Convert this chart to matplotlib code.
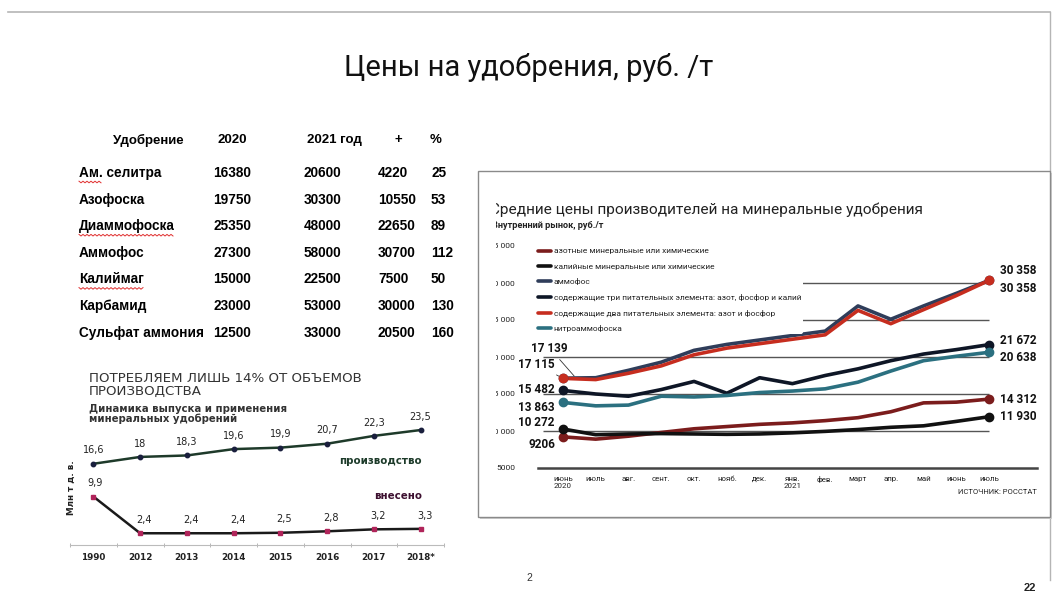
import numpy as np
import matplotlib
matplotlib.use('Agg')
import matplotlib.pyplot as plt
import matplotlib.patches as patches
from matplotlib.transforms import Bbox, TransformedBbox

W, H = 1057, 594
NARROW = ['Roboto', 'DejaVu Sans']
TABLE = ['Liberation Sans', 'DejaVu Sans']

# ---------- table: prices 2020 / 2021 ----------
table_header = ['Удобрение', '2020', '2021 год', '+', '%']
fertilizers = ['Ам. селитра', 'Азофоска', 'Диаммофоска', 'Аммофос',
               'Калиймаг', 'Карбамид', 'Сульфат аммония']
price_2020 = [16380, 19750, 25350, 27300, 15000, 23000, 12500]
price_2021 = [20600, 30300, 48000, 58000, 22500, 53000, 33000]
price_diff = [4220, 10550, 22650, 30700, 7500, 30000, 20500]
price_pct = [25, 53, 89, 112, 50, 130, 160]
underlined = {'Ам. селитра': 'Ам.', 'Диаммофоска': 'Диаммофоска', 'Калиймаг': 'Калиймаг'}

# ---------- production vs. application, mln t ----------
prod_years = ['1990', '2012', '2013', '2014', '2015', '2016', '2017', '2018*']
production = [16.6, 18, 18.3, 19.6, 19.9, 20.7, 22.3, 23.5]
applied = [9.9, 2.4, 2.4, 2.4, 2.5, 2.8, 3.2, 3.3]

# ---------- producer prices, rub/t ----------
months = ['июнь\n2020', 'июль', 'авг.', 'сент.', 'окт.', 'нояб.', 'дек.',
          'янв.\n2021', 'фев.', 'март', 'апр.', 'май', 'июнь', 'июль']
series_names = ['азотные минеральные или химические',
                'калийные минеральные или химические',
                'аммофос',
                'содержащие три питательных элемента: азот, фосфор и калий',
                'содержащие два питательных элемента: азот и фосфор',
                'нитроаммофоска']
azot = [9206, 8900, 9300, 9800, 10300, 10600, 10900, 11100, 11400, 11800, 12600, 13800, 13900, 14312]
kaliy = [10272, 9500, 9600, 9650, 9600, 9550, 9600, 9750, 9950, 10200, 10500, 10700, 11300, 11930]
ammofos = [17139, 17200, 18200, 19300, 20900, 21700, 22300, 22900, 23500, 26900, 25100, 26900, 28600, 30358]
three_el = [15482, 15000, 14700, 15600, 16700, 15100, 17200, 16400, 17500, 18400, 19500, 20400, 21000, 21672]
two_el = [17115, 16950, 17800, 18800, 20300, 21200, 21800, 22400, 23000, 26300, 24500, 26400, 28300, 30358]
nitro = [13863, 13400, 13500, 14700, 14600, 14800, 15200, 15400, 15700, 16600, 18100, 19500, 20100, 20638]
series_colors = ['#7b1c1c', '#111111', '#2f3d5a', '#0e1626', '#c62d1f', '#2b7080']
price_ticks = [5000, 10000, 15000, 20000, 25000, 30000, 35000]
grid_levels = [10000, 15000, 20000, 25000, 30000]


def fmt_rub(v):
    return f'{v:,}'.replace(',', ' ') if v >= 10000 else str(v)


def fmt_dec(v):
    return f'{v:g}'.replace('.', ',')


def px(x, y):
    return x / W, 1 - y / H


def axes_px(left, top, right, bottom):
    return fig.add_axes([left / W, 1 - bottom / H, (right - left) / W, (bottom - top) / H])


fig = plt.figure(figsize=(W / 100, H / 100), dpi=100)
fig.patch.set_facecolor('white')

# slide frame
fig.add_artist(plt.Line2D([0.008, 0.993], [1 - 12 / H] * 2, color='#b5b5b5', lw=1.2, zorder=-3))
fig.add_artist(plt.Line2D([0.993] * 2, [1 - 12 / H, 1 - 580 / H], color='#b5b5b5', lw=1.0, zorder=-3))

fig.text(*px(529, 68), 'Цены на удобрения, руб. /т', family=NARROW, fontsize=21,
         ha='center', va='center', color='#111')

# ---------- table ----------
head_x = [148, 232, 334, 398, 436]
for hx, s in zip(head_x, table_header):
    fig.text(*px(hx, 140), s, family=TABLE, fontsize=9.5, weight='bold', ha='center', va='center')

col_x = [79, 213, 304, 378, 431]
renderer = fig.canvas.get_renderer()
for i, name in enumerate(fertilizers):
    y = 173 + i * 26.6
    row = [name, str(price_2020[i]), str(price_2021[i]), str(price_diff[i]), str(price_pct[i])]
    for cx, s in zip(col_x, row):
        fig.text(*px(cx, y), s, family=TABLE, fontsize=9.8, weight='bold', ha='left', va='center')
    if name in underlined:
        probe = fig.text(*px(79, y), underlined[name], family=TABLE, fontsize=9.8, weight='bold',
                         ha='left', va='center')
        bb = probe.get_window_extent(renderer)
        probe.remove()
        xs = np.arange(bb.x0, bb.x1, 2.0)
        ys = (H - (y + 9)) + np.where(np.arange(len(xs)) % 2 == 0, 0.8, -0.8)
        fig.add_artist(plt.Line2D(xs / W, ys / H, color='#e03030', lw=0.7))

# ---------- production chart ----------
fig.text(*px(89, 385), 'ПОТРЕБЛЯЕМ ЛИШЬ 14% ОТ ОБЪЕМОВ\nПРОИЗВОДСТВА', family='DejaVu Sans',
         fontsize=9.6, color='#333', ha='left', va='center', linespacing=0.95)
fig.text(*px(89, 414), 'Динамика выпуска и применения\nминеральных удобрений', family='DejaVu Sans',
         fontsize=7.3, weight='bold', color='#333', ha='left', va='center', linespacing=0.95)

axp = axes_px(70, 408, 444, 545)
xi = np.arange(len(prod_years))
axp.plot(xi, production, color='#1e3a2a', lw=1.8, marker='o', ms=3.2, mfc='#1a1f3d', mec='#1a1f3d')
axp.plot(xi, applied, color='#1a1a1a', lw=1.8, marker='s', ms=3.2, mfc='#b0245a', mec='#b0245a')
for x, v in zip(xi, production):
    axp.annotate(fmt_dec(v), (x, v), xytext=(0, 6), textcoords='offset points', ha='center',
                 va='bottom', fontsize=7, color='#222')
for x, v in zip(xi, applied):
    axp.annotate(fmt_dec(v), (x, v), xytext=(3 if x else 1, 6), textcoords='offset points',
                 ha='center', va='bottom', fontsize=7, color='#222')
axp.set_xlim(-0.5, len(prod_years) - 0.5)
axp.set_ylim(0, 28)
axp.set_xticks(xi)
axp.set_xticklabels(prod_years, fontsize=6.3, weight='bold', color='#222')
axp.set_xticks(np.arange(-0.5, len(prod_years), 1), minor=True)
axp.tick_params(axis='x', which='major', length=0, pad=6)
axp.tick_params(axis='x', which='minor', length=3, color='#aaa', direction='inout')
axp.set_yticks([])
for s in ['top', 'right', 'left']:
    axp.spines[s].set_visible(False)
axp.spines['bottom'].set_color('#bbb')
axp.set_facecolor('none')
fig.text(*px(422, 461), 'производство', family='DejaVu Sans', fontsize=7.4, weight='bold',
         color='#1d3b2a', ha='right', va='center')
fig.text(*px(422, 496), 'внесено', family='DejaVu Sans', fontsize=7.4, weight='bold',
         color='#3d1030', ha='right', va='center')
fig.text(*px(71, 488), 'Млн т д. в.', family='DejaVu Sans', fontsize=6.3, weight='bold',
         rotation=90, ha='center', va='center', color='#222')

# ---------- price chart box ----------
fig.add_artist(patches.Rectangle(px(480, 519), 572 / W, 346 / H, transform=fig.transFigure,
                                 facecolor='#cfcfcf', edgecolor='none', zorder=-2))
fig.add_artist(patches.Rectangle(px(478, 517), 572 / W, 346 / H, transform=fig.transFigure,
                                 facecolor='white', edgecolor='#8a8a8a', lw=1.0, zorder=-1))

clip = TransformedBbox(Bbox([[496 / W, 0], [1, 1]]), fig.transFigure)
t = fig.text(*px(490, 210), 'Средние цены производителей на минеральные удобрения', family=NARROW,
             fontsize=11.1, ha='left', va='center', color='#222')
t.set_clip_box(clip)
t.set_clip_on(True)
t = fig.text(*px(492, 225), 'Внутренний рынок, руб./т', family=NARROW, fontsize=6.6,
             weight='bold', ha='left', va='center', color='#222')
t.set_clip_box(clip)
t.set_clip_on(True)

ax = axes_px(538, 246, 1037, 468)
xm = np.arange(len(months))
ax.hlines(grid_levels, -0.6, len(months) - 1, color='#555', lw=1.0, zorder=1)
all_series = [azot, kaliy, ammofos, three_el, two_el, nitro]
for vals, c, name in zip(all_series, series_colors, series_names):
    ax.plot(xm, vals, color=c, lw=2.6, label=name, zorder=3, solid_capstyle='round')
    ax.plot([xm[0], xm[-1]], [vals[0], vals[-1]], 'o', color=c, ms=6, zorder=4)

ax.set_xlim(-0.76, 14.46)
ax.set_ylim(price_ticks[0], price_ticks[-1])
ax.set_xticks(xm)
ax.set_xticklabels(months, family=NARROW, fontsize=5.7, color='#222', linespacing=1.1)
ax.set_yticks(price_ticks)
ax.set_yticklabels([fmt_rub(v) for v in price_ticks], family=NARROW, fontsize=6, color='#222')
ax.tick_params(axis='x', length=0, pad=6)
ax.tick_params(axis='y', length=0, pad=16.5)
for lbl in ax.get_yticklabels():
    lbl.set_clip_box(clip)
    lbl.set_clip_on(True)
for s in ['top', 'right', 'left']:
    ax.spines[s].set_visible(False)
ax.spines['bottom'].set_color('#444')
ax.spines['bottom'].set_linewidth(1.8)
ax.set_facecolor('none')

leg = ax.legend(loc='upper left', bbox_to_anchor=px(536, 246), bbox_transform=fig.transFigure,
                prop={'family': NARROW, 'size': 6}, handlelength=1.6, handletextpad=0.3,
                labelspacing=1.02, borderpad=0.2, borderaxespad=0, frameon=True,
                facecolor='white', edgecolor='none', framealpha=1)
for txt in leg.get_texts():
    txt.set_color('#222')

# start labels (left) and end labels (right)
start_offsets = [(-8, -8), (-8, 6), (-8, 30), (-8, 1), (-8, 14), (-8, -5)]
end_offsets = [(11, 0), (11, 0), (11, 10), (11, 4), (11, -8), (11, -5)]
for k, (vals, c) in enumerate(zip(all_series, series_colors)):
    dx, dy = start_offsets[k]
    arrow = dict(arrowstyle='-', lw=0.6, color='#333') if k in (2, 4) else None
    ax.annotate(fmt_rub(vals[0]), (0.4 if k == 2 else 0, vals[0]), xytext=(dx, dy),
                textcoords='offset pixels', ha='right', va='center', family=NARROW,
                fontsize=8.5, weight='bold', color='#111', arrowprops=arrow)
    dx, dy = end_offsets[k]
    ax.annotate(fmt_rub(vals[-1]), (xm[-1], vals[-1]), xytext=(dx, dy),
                textcoords='offset pixels', ha='left', va='center', family=NARROW,
                fontsize=8.5, weight='bold', color='#111')

fig.text(*px(1037, 492), 'ИСТОЧНИК: РОССТАТ', family=NARROW, fontsize=5.5, ha='right',
         va='center', color='#222')

fig.text(*px(529, 578), '2', family=TABLE, fontsize=7.5, ha='center', va='center', color='#333')
fig.text(*px(1030, 588), '22', family=TABLE, fontsize=8, weight='bold', ha='center',
         va='center', color='#222')

fig.savefig('out.png', dpi=100, facecolor='white')
